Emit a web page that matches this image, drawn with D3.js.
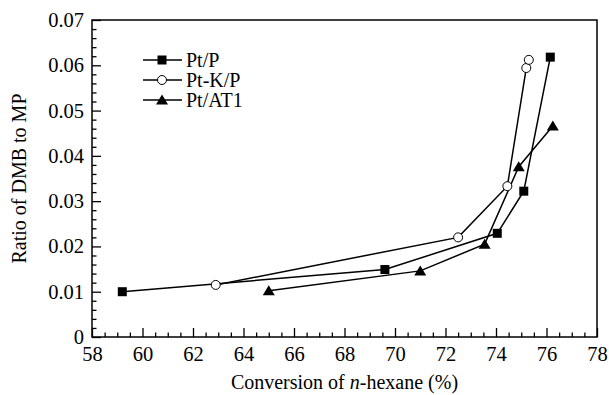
<!DOCTYPE html>
<html>
<head>
<meta charset="utf-8">
<script src="https://cdn.jsdelivr.net/npm/d3@7"></script>
<style>
  body { margin: 0; background: #fff; }
  svg text { font-family: "Liberation Serif", "Times New Roman", "DejaVu Serif", serif; }
</style>
</head>
<body>
<svg width="609" height="395"></svg>
<script>
// data: [conversion %, ratio]
const ptP = [[59.2, 0.0100], [69.6, 0.0149], [74.05, 0.0229], [75.1, 0.0322], [76.15, 0.0618]];
const ptKP = [[62.9, 0.0115], [72.5, 0.0220], [74.45, 0.0333], [75.2, 0.0594], [75.3, 0.0612]];
const ptAT1 = [[65.0, 0.0102], [71.0, 0.0146], [73.55, 0.0205], [74.9, 0.0376], [76.25, 0.0466]];

const seriesNames = ["Pt/P", "Pt-K/P", "Pt/AT1"];
const xTicks = [58, 60, 62, 64, 66, 68, 70, 72, 74, 76, 78];
const yTicks = [0, 0.01, 0.02, 0.03, 0.04, 0.05, 0.06, 0.07];

let svg = d3.select("svg");
let margin = {left: 92, top: 20, right: 12, bottom: 58};
let width = +svg.attr("width");
let height = +svg.attr("height");

let x = d3.scaleLinear().domain([58, 78]).range([margin.left, width - margin.right]);
let y = d3.scaleLinear().domain([0, 0.07]).range([height - margin.bottom, margin.top]);

let xMinor = d3.range(58, 78.01, 0.5).filter(v => !xTicks.includes(v));
let yMinor = d3.range(0, 0.0701, 0.002).filter(v => !yTicks.some(t => Math.abs(t - v) < 1e-9));

// frame
svg.append("rect")
    .attr("x", x(58)).attr("y", y(0.07))
    .attr("width", x(78) - x(58)).attr("height", y(0) - y(0.07))
    .attr("fill", "none").attr("stroke", "black").attr("stroke-width", 1.5);

// x axis, ticks pointing inward
let gx = svg.append("g").attr("transform", `translate(0,${y(0)})`);
gx.call(d3.axisBottom(x).tickValues(xTicks).tickSize(-9).tickPadding(9));
gx.append("g").call(d3.axisBottom(x).tickValues(xMinor).tickSize(-4.5).tickFormat(""));

let gy = svg.append("g").attr("transform", `translate(${x(58)},0)`);
gy.call(d3.axisLeft(y).tickValues(yTicks).tickSize(-9).tickPadding(8)
    .tickFormat(d => d === 0 ? "0" : d3.format(".2f")(d)));
gy.append("g").call(d3.axisLeft(y).tickValues(yMinor).tickSize(-4.5).tickFormat(""));

svg.selectAll(".domain").remove();
svg.selectAll("g").attr("font-family", null);
svg.selectAll(".tick line").attr("stroke", "black").attr("stroke-width", 1.3);
svg.selectAll(".tick text")
    .attr("font-size", 20.5).attr("fill", "black");

// axis titles
let xt = svg.append("text")
    .attr("x", (x(58) + x(78)) / 2).attr("y", 389)
    .attr("text-anchor", "middle").attr("font-size", 20);
xt.append("tspan").text("Conversion of ");
xt.append("tspan").attr("font-style", "italic").text("n");
xt.append("tspan").text("-hexane (%)");

svg.append("text")
    .attr("transform", `translate(26,${(y(0) + y(0.07)) / 2}) rotate(-90)`)
    .attr("text-anchor", "middle").attr("font-size", 20)
    .text("Ratio of DMB to MP");

// lines and markers
let line = d3.line().x(d => x(d[0])).y(d => y(d[1]));
let allSeries = [ptP, ptKP, ptAT1];

allSeries.forEach(s => {
    svg.append("path")
        .datum(s)
        .attr("fill", "none")
        .attr("stroke", "black")
        .attr("stroke-width", 1.5)
        .attr("d", line);
});

function marker(g, kind) {
    if (kind === 0) {
        g.append("rect").attr("x", -4.5).attr("y", -4.5).attr("width", 9).attr("height", 9)
            .attr("fill", "black");
    } else if (kind === 1) {
        g.append("circle").attr("r", 4.5).attr("fill", "white")
            .attr("stroke", "black").attr("stroke-width", 1);
    } else {
        g.append("path").attr("d", "M0,-5.5L6,4.5L-6,4.5Z").attr("fill", "black");
    }
}

allSeries.forEach((s, i) => {
    svg.append("g")
        .selectAll("g")
        .data(s)
        .enter()
        .append("g")
        .attr("transform", d => `translate(${x(d[0])},${y(d[1])})`)
        .each(function() { marker(d3.select(this), i); });
});

// legend
let legend = svg.append("g");
seriesNames.forEach((name, i) => {
    let ly = 60 + i * 20;
    legend.append("line")
        .attr("x1", 143).attr("x2", 182).attr("y1", ly).attr("y2", ly)
        .attr("stroke", "black").attr("stroke-width", 1.5);
    let m = legend.append("g").attr("transform", `translate(162,${ly})`);
    marker(m, i);
    legend.append("text")
        .attr("x", 186).attr("y", ly + 7)
        .attr("font-size", 20)
        .text(name);
});
</script>
</body>
</html>
